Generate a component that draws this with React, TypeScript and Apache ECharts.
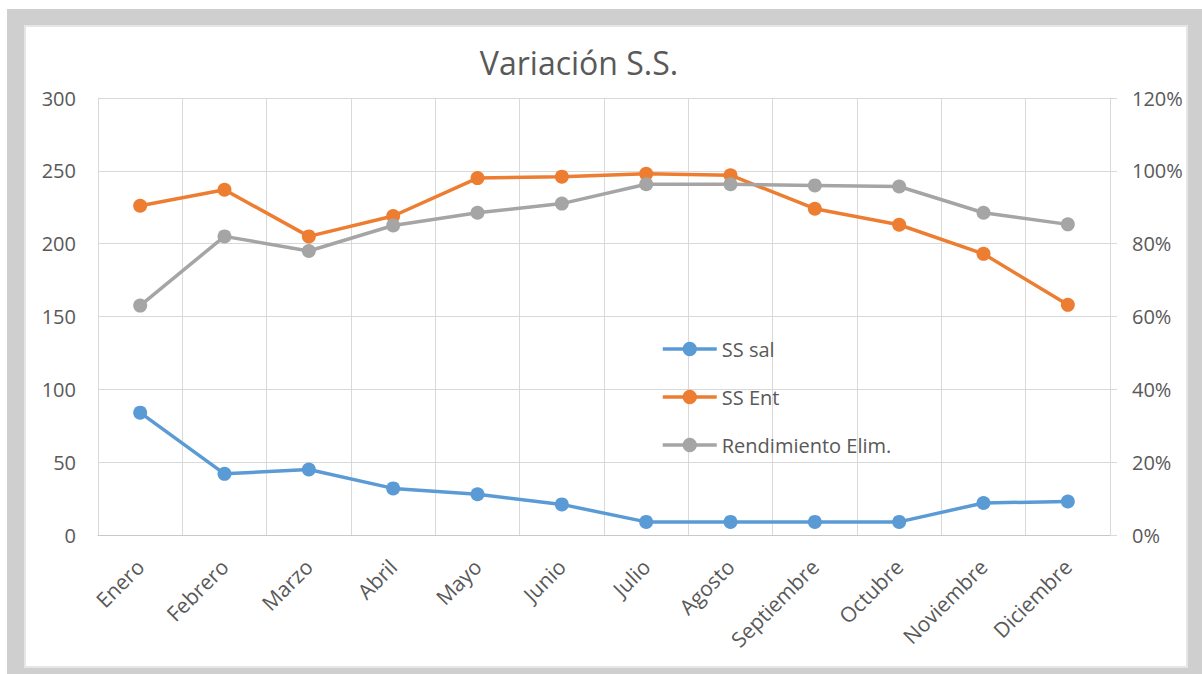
import React, { useEffect, useRef } from "react";
import * as echarts from "echarts";

const categories = ["Enero", "Febrero", "Marzo", "Abril", "Mayo", "Junio", "Julio", "Agosto", "Septiembre", "Octubre", "Noviembre", "Diciembre"];
const ssSal = [84, 42, 45, 32, 28, 21, 9, 9, 9, 9, 22, 23];
const ssEnt = [226, 237, 205, 219, 245, 246, 248, 247, 224, 213, 193, 158];
const rendimiento = [0.63, 0.82, 0.78, 0.85, 0.885, 0.91, 0.963, 0.963, 0.96, 0.957, 0.885, 0.853];
const leftTicks = { min: 0, max: 300, interval: 50 };
const rightTicks = { min: 0, max: 1.2, interval: 0.2 };
const titleText = "Variación S.S.";

const FONT = "'Open Sans', 'Noto Sans', sans-serif";
const TEXT = "#595959";
const GRID = "#d9d9d9";

export default function App() {
  const ref = useRef<HTMLDivElement>(null);
  useEffect(() => {
    if (!ref.current) return;
    const chart = echarts.init(ref.current, null, { renderer: "svg" });
    const mk = (name: string, data: number[], color: string, yAxisIndex: number) => ({
      name,
      type: "line",
      data,
      yAxisIndex,
      symbol: "circle",
      symbolSize: 14,
      lineStyle: { color, width: 3.5 },
      itemStyle: { color },
    });
    chart.setOption({
      animation: false,
      textStyle: { fontFamily: FONT },
      graphic: [
        {
          type: "text",
          x: 579,
          y: 62,
          style: { text: titleText, fontSize: 32, fontFamily: FONT, fill: TEXT, align: "center", verticalAlign: "middle" },
        },
      ],
      grid: { left: 98, top: 98, right: 92, bottom: 139 },
      legend: {
        orient: "vertical",
        left: 661,
        top: 339,
        padding: 0,
        itemWidth: 54,
        itemHeight: 18,
        itemGap: 28,
        lineStyle: { width: 3.5 },
        textStyle: { fontSize: 20, color: TEXT, fontFamily: FONT, lineHeight: 20 },
        data: ["SS sal", "SS Ent", "Rendimiento Elim."],
      },
      xAxis: {
        type: "category",
        data: categories,
        boundaryGap: true,
        axisTick: { show: false },
        axisLine: { lineStyle: { color: "#c8c8c8", width: 1 } },
        splitLine: { show: true, lineStyle: { color: GRID, width: 1 } },
        axisLabel: { rotate: 45, fontSize: 21, color: TEXT, fontFamily: FONT, margin: 28, interval: 0 },
      },
      yAxis: [
        {
          type: "value",
          ...leftTicks,
          axisLine: { show: true, lineStyle: { color: GRID } },
          axisTick: { show: false },
          splitLine: { show: true, lineStyle: { color: GRID, width: 1 } },
          axisLabel: { fontSize: 20, color: TEXT, fontFamily: FONT, margin: 22 },
        },
        {
          type: "value",
          ...rightTicks,
          position: "right",
          axisLine: { show: true, lineStyle: { color: GRID } },
          axisTick: { show: true, length: 7, lineStyle: { color: GRID } },
          splitLine: { show: false },
          axisLabel: {
            fontSize: 20,
            color: TEXT,
            fontFamily: FONT,
            margin: 22,
            formatter: (v: number) => Math.round(v * 100) + "%",
          },
        },
      ],
      series: [
        mk("SS sal", ssSal, "#5B9BD5", 0),
        mk("SS Ent", ssEnt, "#ED7D31", 0),
        mk("Rendimiento Elim.", rendimiento, "#A5A5A5", 1),
      ],
    });
    return () => chart.dispose();
  }, []);

  return (
    <div style={{ position: "absolute", left: 0, top: 0, width: 1202, height: 674, background: "#ffffff" }}>
      <div style={{ position: "absolute", left: 7, top: 9, width: 1195, height: 665, background: "#d0cfcf" }} />
      <div
        style={{
          position: "absolute",
          left: 24,
          top: 25,
          width: 1164,
          height: 643,
          background: "#ffffff",
          border: "2px solid #e6e6e6",
          boxSizing: "border-box",
        }}
      />
      <div ref={ref} style={{ position: "absolute", left: 0, top: 0, width: 1202, height: 674 }} />
    </div>
  );
}
